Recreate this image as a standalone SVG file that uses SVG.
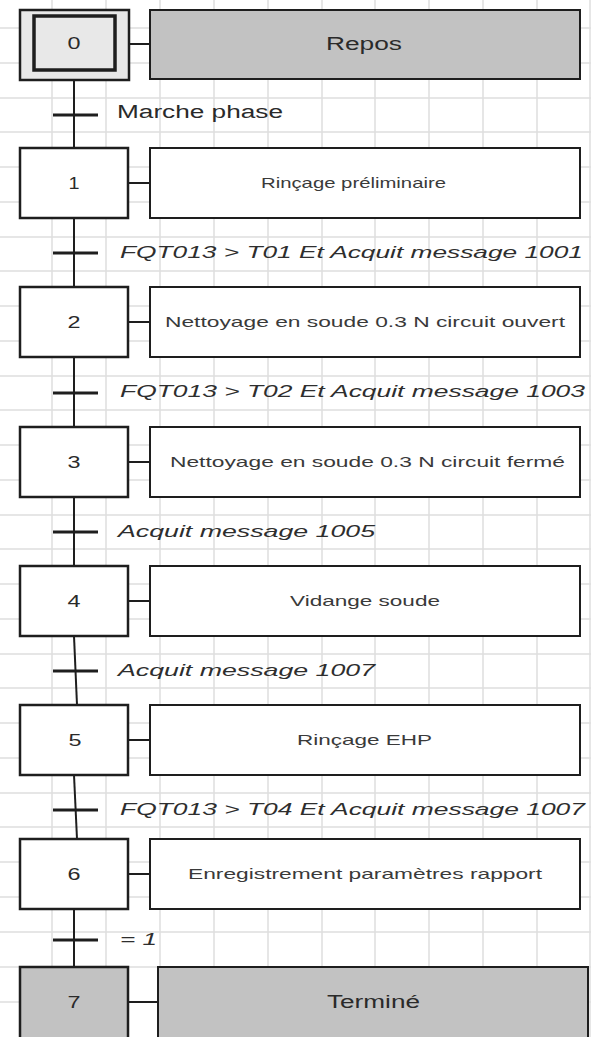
<svg xmlns="http://www.w3.org/2000/svg" width="591" height="1037" viewBox="0 0 591 1037">
<style>
.grid line{stroke:#dedede;stroke-width:1.5}
.step{fill:#fff;stroke:#1e1e1e;stroke-width:2.5}
.act{fill:#fff;stroke:#1e1e1e;stroke-width:2}
.gray{fill:#c2c2c2}
.lgray{fill:#e8e8e8}
.link{stroke:#1e1e1e;stroke-width:2;fill:none}
.bar{stroke:#1e1e1e;stroke-width:3}
.num{font-family:"Liberation Sans",Arial,sans-serif;font-size:16px;fill:#2a2a2a;text-anchor:middle}
.atx{font-family:"Liberation Sans",Arial,sans-serif;font-size:15px;fill:#3a3a3a}
.big{font-family:"Liberation Sans",Arial,sans-serif;font-size:18px;fill:#2a2a2a}
.tr{font-family:"Liberation Sans",Arial,sans-serif;font-size:17px;fill:#2e2e2e;font-style:italic}
</style>
<rect width="591" height="1037" fill="#fff"/>
<g class="grid">
<line x1="52" y1="0" x2="52" y2="1037"/><line x1="106" y1="0" x2="106" y2="1037"/><line x1="160" y1="0" x2="160" y2="1037"/><line x1="214" y1="0" x2="214" y2="1037"/><line x1="268" y1="0" x2="268" y2="1037"/><line x1="322" y1="0" x2="322" y2="1037"/><line x1="375" y1="0" x2="375" y2="1037"/><line x1="429" y1="0" x2="429" y2="1037"/><line x1="483" y1="0" x2="483" y2="1037"/><line x1="537" y1="0" x2="537" y2="1037"/><line x1="590" y1="0" x2="590" y2="1037"/>
<line x1="0" y1="28" x2="591" y2="28"/><line x1="0" y1="63" x2="591" y2="63"/><line x1="0" y1="98" x2="591" y2="98"/><line x1="0" y1="132" x2="591" y2="132"/><line x1="0" y1="167" x2="591" y2="167"/><line x1="0" y1="202" x2="591" y2="202"/><line x1="0" y1="237" x2="591" y2="237"/><line x1="0" y1="271" x2="591" y2="271"/><line x1="0" y1="306" x2="591" y2="306"/><line x1="0" y1="341" x2="591" y2="341"/><line x1="0" y1="376" x2="591" y2="376"/><line x1="0" y1="410" x2="591" y2="410"/><line x1="0" y1="445" x2="591" y2="445"/><line x1="0" y1="480" x2="591" y2="480"/><line x1="0" y1="515" x2="591" y2="515"/><line x1="0" y1="549" x2="591" y2="549"/><line x1="0" y1="584" x2="591" y2="584"/><line x1="0" y1="619" x2="591" y2="619"/><line x1="0" y1="654" x2="591" y2="654"/><line x1="0" y1="688" x2="591" y2="688"/><line x1="0" y1="723" x2="591" y2="723"/><line x1="0" y1="758" x2="591" y2="758"/><line x1="0" y1="793" x2="591" y2="793"/><line x1="0" y1="827" x2="591" y2="827"/><line x1="0" y1="862" x2="591" y2="862"/><line x1="0" y1="897" x2="591" y2="897"/><line x1="0" y1="932" x2="591" y2="932"/><line x1="0" y1="967" x2="591" y2="967"/><line x1="0" y1="1002" x2="591" y2="1002"/>
</g>
<g id="connectors">
<line class="link" x1="74" y1="80" x2="74" y2="148"/>
<line class="link" x1="74" y1="218" x2="74" y2="287"/>
<line class="link" x1="74" y1="357" x2="74" y2="427"/>
<line class="link" x1="74" y1="497" x2="74" y2="566"/>
<line class="link" x1="74" y1="636" x2="77" y2="705"/>
<line class="link" x1="74" y1="775" x2="77" y2="839"/>
<line class="link" x1="74" y1="909" x2="74" y2="967"/>
<line class="link" x1="129" y1="44" x2="150" y2="44"/>
<line class="link" x1="128" y1="183" x2="150" y2="183"/>
<line class="link" x1="128" y1="322" x2="150" y2="322"/>
<line class="link" x1="128" y1="462" x2="150" y2="462"/>
<line class="link" x1="128" y1="601" x2="150" y2="601"/>
<line class="link" x1="128" y1="740" x2="150" y2="740"/>
<line class="link" x1="128" y1="874" x2="150" y2="874"/>
<line class="link" x1="128" y1="1002" x2="158" y2="1002"/>
<line class="bar" x1="53" y1="115" x2="98" y2="115"/>
<line class="bar" x1="53" y1="253" x2="98" y2="253"/>
<line class="bar" x1="53" y1="393" x2="98" y2="393"/>
<line class="bar" x1="53" y1="532" x2="98" y2="532"/>
<line class="bar" x1="53" y1="671" x2="98" y2="671"/>
<line class="bar" x1="53" y1="810" x2="98" y2="810"/>
<line class="bar" x1="53" y1="940" x2="98" y2="940"/>
</g>
<g id="transitions">
<text class="big" x="117" y="118" textLength="166" lengthAdjust="spacingAndGlyphs">Marche phase</text>
<text class="tr" x="120" y="258" textLength="463" lengthAdjust="spacingAndGlyphs">FQT013 &gt; T01 Et Acquit message 1001</text>
<text class="tr" x="120" y="397" textLength="465" lengthAdjust="spacingAndGlyphs">FQT013 &gt; T02 Et Acquit message 1003</text>
<text class="tr" x="118" y="537" textLength="257" lengthAdjust="spacingAndGlyphs">Acquit message 1005</text>
<text class="tr" x="118" y="676" textLength="257" lengthAdjust="spacingAndGlyphs">Acquit message 1007</text>
<text class="tr" x="120" y="815" textLength="465" lengthAdjust="spacingAndGlyphs">FQT013 &gt; T04 Et Acquit message 1007</text>
<text class="tr" x="120" y="945" textLength="37" lengthAdjust="spacingAndGlyphs">= 1</text>
</g>
<g id="step0">
<rect class="step lgray" x="20" y="10" width="109" height="70"/>
<rect class="step lgray" x="34" y="16" width="81" height="54" style="stroke-width:3.5"/>
<text class="num" x="74" y="49" textLength="13" lengthAdjust="spacingAndGlyphs">0</text>
<rect class="act gray" x="150" y="10" width="430" height="69"/>
<text class="big" x="326" y="50" textLength="76" lengthAdjust="spacingAndGlyphs">Repos</text>
</g>
<g id="step1">
<rect class="step" x="20" y="148" width="108" height="70"/>
<text class="num" x="74" y="189" textLength="11" lengthAdjust="spacingAndGlyphs">1</text>
<rect class="act" x="150" y="148" width="430" height="70"/>
<text class="atx" x="261" y="188" textLength="185" lengthAdjust="spacingAndGlyphs">Rinçage préliminaire</text>
</g>
<g id="step2">
<rect class="step" x="20" y="287" width="108" height="70"/>
<text class="num" x="74" y="328" textLength="13" lengthAdjust="spacingAndGlyphs">2</text>
<rect class="act" x="150" y="287" width="430" height="70"/>
<text class="atx" x="165" y="327" textLength="400" lengthAdjust="spacingAndGlyphs">Nettoyage en soude 0.3 N circuit ouvert</text>
</g>
<g id="step3">
<rect class="step" x="20" y="427" width="108" height="70"/>
<text class="num" x="74" y="468" textLength="13" lengthAdjust="spacingAndGlyphs">3</text>
<rect class="act" x="150" y="427" width="430" height="70"/>
<text class="atx" x="170" y="467" textLength="395" lengthAdjust="spacingAndGlyphs">Nettoyage en soude 0.3 N circuit fermé</text>
</g>
<g id="step4">
<rect class="step" x="20" y="566" width="108" height="70"/>
<text class="num" x="74" y="607" textLength="13" lengthAdjust="spacingAndGlyphs">4</text>
<rect class="act" x="150" y="566" width="430" height="70"/>
<text class="atx" x="290" y="606" textLength="150" lengthAdjust="spacingAndGlyphs">Vidange soude</text>
</g>
<g id="step5">
<rect class="step" x="20" y="705" width="108" height="70"/>
<text class="num" x="75" y="746" textLength="13" lengthAdjust="spacingAndGlyphs">5</text>
<rect class="act" x="150" y="705" width="430" height="70"/>
<text class="atx" x="297" y="745" textLength="135" lengthAdjust="spacingAndGlyphs">Rinçage EHP</text>
</g>
<g id="step6">
<rect class="step" x="20" y="839" width="108" height="70"/>
<text class="num" x="74" y="880" textLength="13" lengthAdjust="spacingAndGlyphs">6</text>
<rect class="act" x="150" y="839" width="430" height="70"/>
<text class="atx" x="188" y="879" textLength="354" lengthAdjust="spacingAndGlyphs">Enregistrement paramètres rapport</text>
</g>
<g id="step7">
<rect class="step gray" x="20" y="967" width="108" height="80"/>
<text class="num" x="74" y="1008" textLength="13" lengthAdjust="spacingAndGlyphs">7</text>
<rect class="act gray" x="158" y="967" width="430" height="80"/>
<text class="big" x="327" y="1008" textLength="93" lengthAdjust="spacingAndGlyphs">Terminé</text>
</g>
</svg>
